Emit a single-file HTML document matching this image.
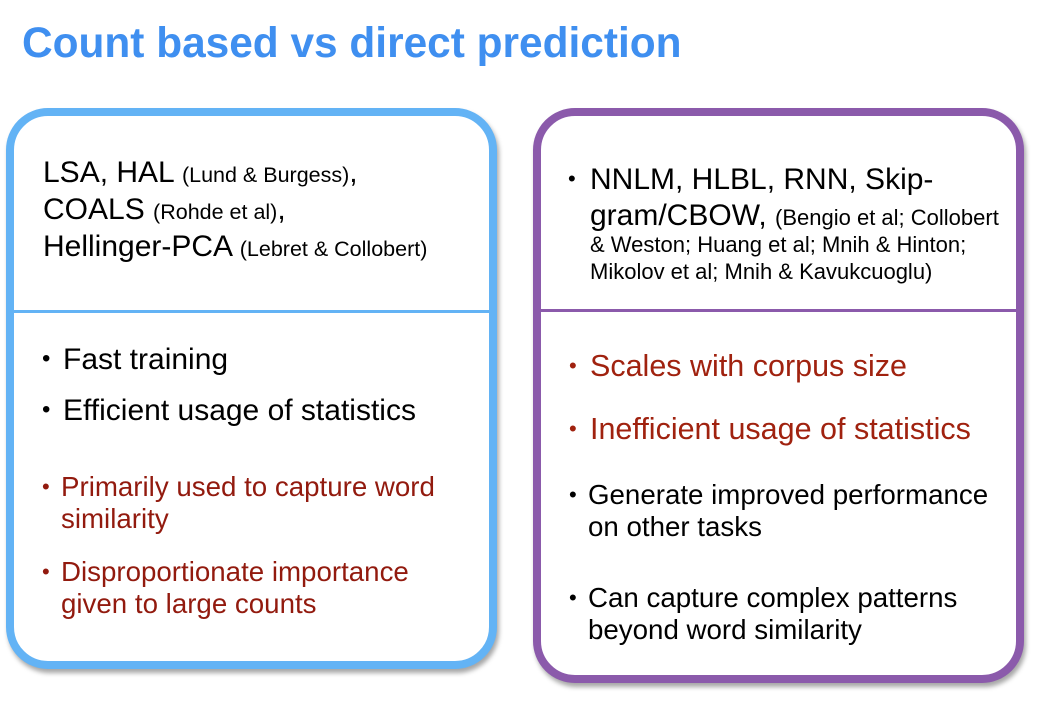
<!DOCTYPE html>
<html><head><meta charset="utf-8"><style>
body{margin:0;width:1058px;height:712px;background:#fff;position:relative;overflow:hidden;font-family:"Liberation Sans",Arial,sans-serif;}
.t{position:absolute;white-space:nowrap;line-height:1;}
.box{position:absolute;box-sizing:border-box;border-radius:42px;background:#fff;box-shadow:2px 4px 5px rgba(0,0,0,0.35);}
.r{color:#921a0e}
.rr{color:#a0220f}
.s{font-size:21.5px}
.b{position:absolute;line-height:1;}
</style></head><body>
<div class="t" style="left:22px;top:22px;font-size:42.4px;font-weight:bold;color:#3f8ff0;">Count based vs direct prediction</div>

<div class="box" style="left:6px;top:108px;width:491px;height:561px;border:8px solid #63b3f5;"></div>
<div style="position:absolute;left:12px;top:310px;width:479px;height:3px;background:#63b3f5;"></div>

<div class="box" style="left:533px;top:108px;width:491px;height:575px;border:8px solid #8b5aab;"></div>
<div style="position:absolute;left:539px;top:309px;width:479px;height:3px;background:#8b5aab;"></div>

<!-- left header -->
<div class="t" style="left:43px;top:158px;font-size:30px;">LSA, HAL <span class="s">(Lund &amp; Burgess)</span>,</div>
<div class="t" style="left:43px;top:195px;font-size:30px;">COALS <span class="s">(Rohde et al)</span>,</div>
<div class="t" style="left:43px;top:232px;font-size:30px;">Hellinger-PCA <span class="s">(Lebret &amp; Collobert)</span></div>

<!-- left bullets -->
<div class="t" style="left:42px;top:347px;font-size:24px;">•</div>
<div class="t" style="left:63px;top:345px;font-size:30px;">Fast training</div>
<div class="t" style="left:42px;top:398px;font-size:24px;">•</div>
<div class="t" style="left:63px;top:396px;font-size:30px;">Efficient usage of statistics</div>
<div class="t r" style="left:42px;top:476px;font-size:22px;">•</div>
<div class="t r" style="left:61px;top:473px;font-size:27.7px;">Primarily used to capture word</div>
<div class="t r" style="left:61px;top:505px;font-size:27.7px;">similarity</div>
<div class="t r" style="left:42px;top:561px;font-size:22px;">•</div>
<div class="t r" style="left:61px;top:558px;font-size:27.7px;">Disproportionate importance</div>
<div class="t r" style="left:61px;top:590px;font-size:27.7px;">given to large counts</div>

<!-- right header -->
<div class="t" style="left:568px;top:168px;font-size:22px;">•</div>
<div class="t" style="left:590px;top:165px;font-size:30px;">NNLM, HLBL, RNN, Skip-</div>
<div class="t" style="left:590px;top:201px;font-size:30px;">gram/CBOW, <span style="font-size:22px">(Bengio et al; Collobert</span></div>
<div class="t" style="left:590px;top:234px;font-size:22px;">&amp; Weston; Huang et al; Mnih &amp; Hinton;</div>
<div class="t" style="left:590px;top:261px;font-size:22px;">Mikolov et al; Mnih &amp; Kavukcuoglu)</div>

<!-- right bullets -->
<div class="t rr" style="left:569px;top:355px;font-size:22px;">•</div>
<div class="t rr" style="left:590px;top:351px;font-size:30.5px;">Scales with corpus size</div>
<div class="t rr" style="left:569px;top:418px;font-size:22px;">•</div>
<div class="t rr" style="left:590px;top:414px;font-size:30.5px;">Inefficient usage of statistics</div>
<div class="t" style="left:569px;top:484px;font-size:22px;">•</div>
<div class="t" style="left:588px;top:481px;font-size:27.7px;">Generate improved performance</div>
<div class="t" style="left:588px;top:513px;font-size:27.7px;">on other tasks</div>
<div class="t" style="left:569px;top:587px;font-size:22px;">•</div>
<div class="t" style="left:588px;top:584px;font-size:27.7px;">Can capture complex patterns</div>
<div class="t" style="left:588px;top:616px;font-size:27.7px;">beyond word similarity</div>
</body></html>
